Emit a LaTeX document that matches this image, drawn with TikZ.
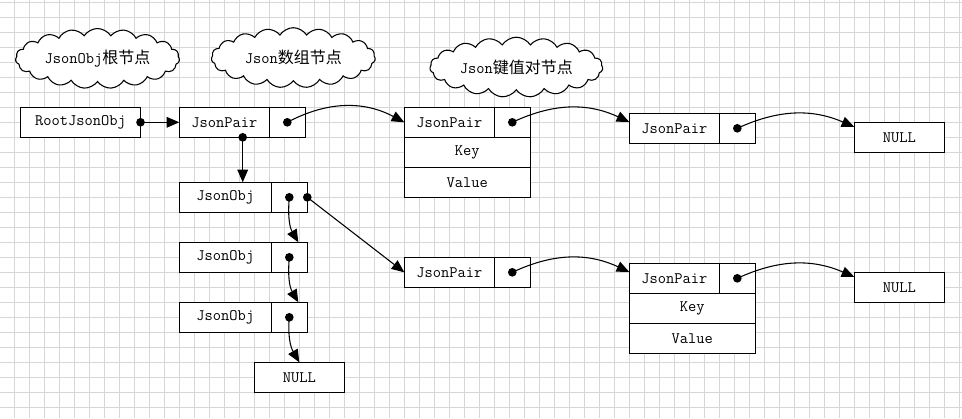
\documentclass[tikz,border=0pt]{standalone}
\usepackage{fontspec}
\usetikzlibrary{positioning,arrows.meta,shapes.symbols}
\newfontfamily\cjkfont{Noto Sans CJK SC}
\definecolor{jsGrid}{RGB}{215,215,215}
\definecolor{jsInk}{RGB}{0,0,0}
\tikzset{
    base/.style={font=\ttfamily\fontsize{12}{14}\selectfont, align=center, text=jsInk},
    cell/.style={base, rectangle, draw=jsInk, line width=1pt, fill=white,
                 outer sep=0pt, inner sep=0pt, minimum height=22.5pt},
    rootcell/.style={cell, minimum width=90pt},
    paircell/.style={cell, minimum width=67.5pt},
    objcell/.style={cell, minimum width=69pt},
    ptrcell/.style={cell, minimum width=27pt},
    rowcell/.style={cell, minimum width=94.5pt},
    nullcell/.style={cell, minimum width=67.5pt},
    cloudtag/.style={base, cloud, draw=jsInk, line width=0.8pt, fill=white,
                     cloud puffs=19, cloud puff arc=115, cloud ignores aspect,
                     minimum width=123pt, minimum height=45pt},
    dot/.style={circle, fill=jsInk, inner sep=0pt, minimum size=6.5pt},
    link/.style={-{Triangle[length=9.5pt,width=8pt]}, line width=0.8pt, color=jsInk}
}
\begin{document}
\begin{tikzpicture}[x=0.75pt, y=-0.75pt]
  \useasboundingbox (0,0) rectangle (962,418);
  % background grid
  \foreach \gx in {14,29,...,959} \draw[jsGrid, line width=0.75pt] (\gx,0) -- (\gx,418);
  \foreach \gy in {2,17,...,407} \draw[jsGrid, line width=0.75pt] (0,\gy) -- (962,\gy);

  % captions
  \node[cloudtag] (tagRoot) at (97.5,58.5) {JsonObj{\cjkfont 根节点}};
  \node[cloudtag] (tagArr) at (293.3,57.7) {Json{\cjkfont 数组节点}};
  \node[cloudtag] (tagPair) at (516.3,67.2) {Json{\cjkfont 键值对节点}};

  % root and array column
  \node[rootcell] (root) at (80.5,122.3) {RootJsonObj};
  \node[paircell] (pair1) at (224.3,122.3) {JsonPair};
  \node[ptrcell, right=0pt of pair1] (ptr1) {};
  \node[objcell] (objA) at (225.3,197.3) {JsonObj};
  \node[ptrcell, right=0pt of objA] (ptrA) {};
  \node[objcell] (objB) at (225.3,257.3) {JsonObj};
  \node[ptrcell, right=0pt of objB] (ptrB) {};
  \node[objcell] (objC) at (225.3,317.3) {JsonObj};
  \node[ptrcell, right=0pt of objC] (ptrC) {};
  \node[nullcell] (nullC) at (299.3,377.3) {NULL};

  % key/value pairs, upper chain
  \node[paircell] (pairA) at (449.3,122.3) {JsonPair};
  \node[ptrcell, right=0pt of pairA] (ptrPA) {};
  \node[rowcell, anchor=north west] (keyA) at (pairA.south west) {Key};
  \node[rowcell, below=0pt of keyA] (valA) {Value};
  \node[paircell] (pairB) at (674.3,128.3) {JsonPair};
  \node[ptrcell, right=0pt of pairB] (ptrPB) {};
  \node[nullcell] (nullA) at (899.3,137.3) {NULL};

  % key/value pairs, lower chain
  \node[paircell] (pairC) at (449.3,272.3) {JsonPair};
  \node[ptrcell, right=0pt of pairC] (ptrPC) {};
  \node[paircell] (pairD) at (674.3,278.3) {JsonPair};
  \node[ptrcell, right=0pt of pairD] (ptrPD) {};
  \node[rowcell, anchor=north west] (keyD) at (pairD.south west) {Key};
  \node[rowcell, below=0pt of keyD] (valD) {Value};
  \node[nullcell] (nullB) at (899.3,287.3) {NULL};

  % pointer dots
  \node[dot] (dRoot) at (root.east) {};
  \node[dot] (d1) at (ptr1.center) {};
  \node[dot] (d1down) at (242.7,137.3) {};
  \node[dot] (dA) at (ptrA.center) {};
  \node[dot] (dAside) at (ptrA.east) {};
  \node[dot] (dB) at (ptrB.center) {};
  \node[dot] (dC) at (ptrC.center) {};
  \node[dot] (dPA) at (ptrPA.center) {};
  \node[dot] (dPB) at (ptrPB.center) {};
  \node[dot] (dPC) at (ptrPC.center) {};
  \node[dot] (dPD) at (ptrPD.center) {};

  % links
  \draw[link] (dRoot.center) -- (pair1.west);
  \draw[link] (d1down.center) -- (d1down.center |- objA.north);
  \draw[link] (d1.center) to[bend left=28] (pairA.west);
  \draw[link] (dPA.center) to[bend left=25] (pairB.172);
  \draw[link] (dPB.center) to[bend left=24] (nullA.167);
  \draw[link] (dAside.center) -- (pairC.west);
  \draw[link] (dPC.center) to[bend left=25] (pairD.172);
  \draw[link] (dPD.center) to[bend left=24] (nullB.167);
  \draw[link] (dA.center) to[out=-95, in=120] (ptrB.59);
  \draw[link] (dB.center) to[out=-95, in=120] (ptrC.59);
  \draw[link] (dC.center) to[out=-95, in=120] (nullC.north);
\end{tikzpicture}
\end{document}
